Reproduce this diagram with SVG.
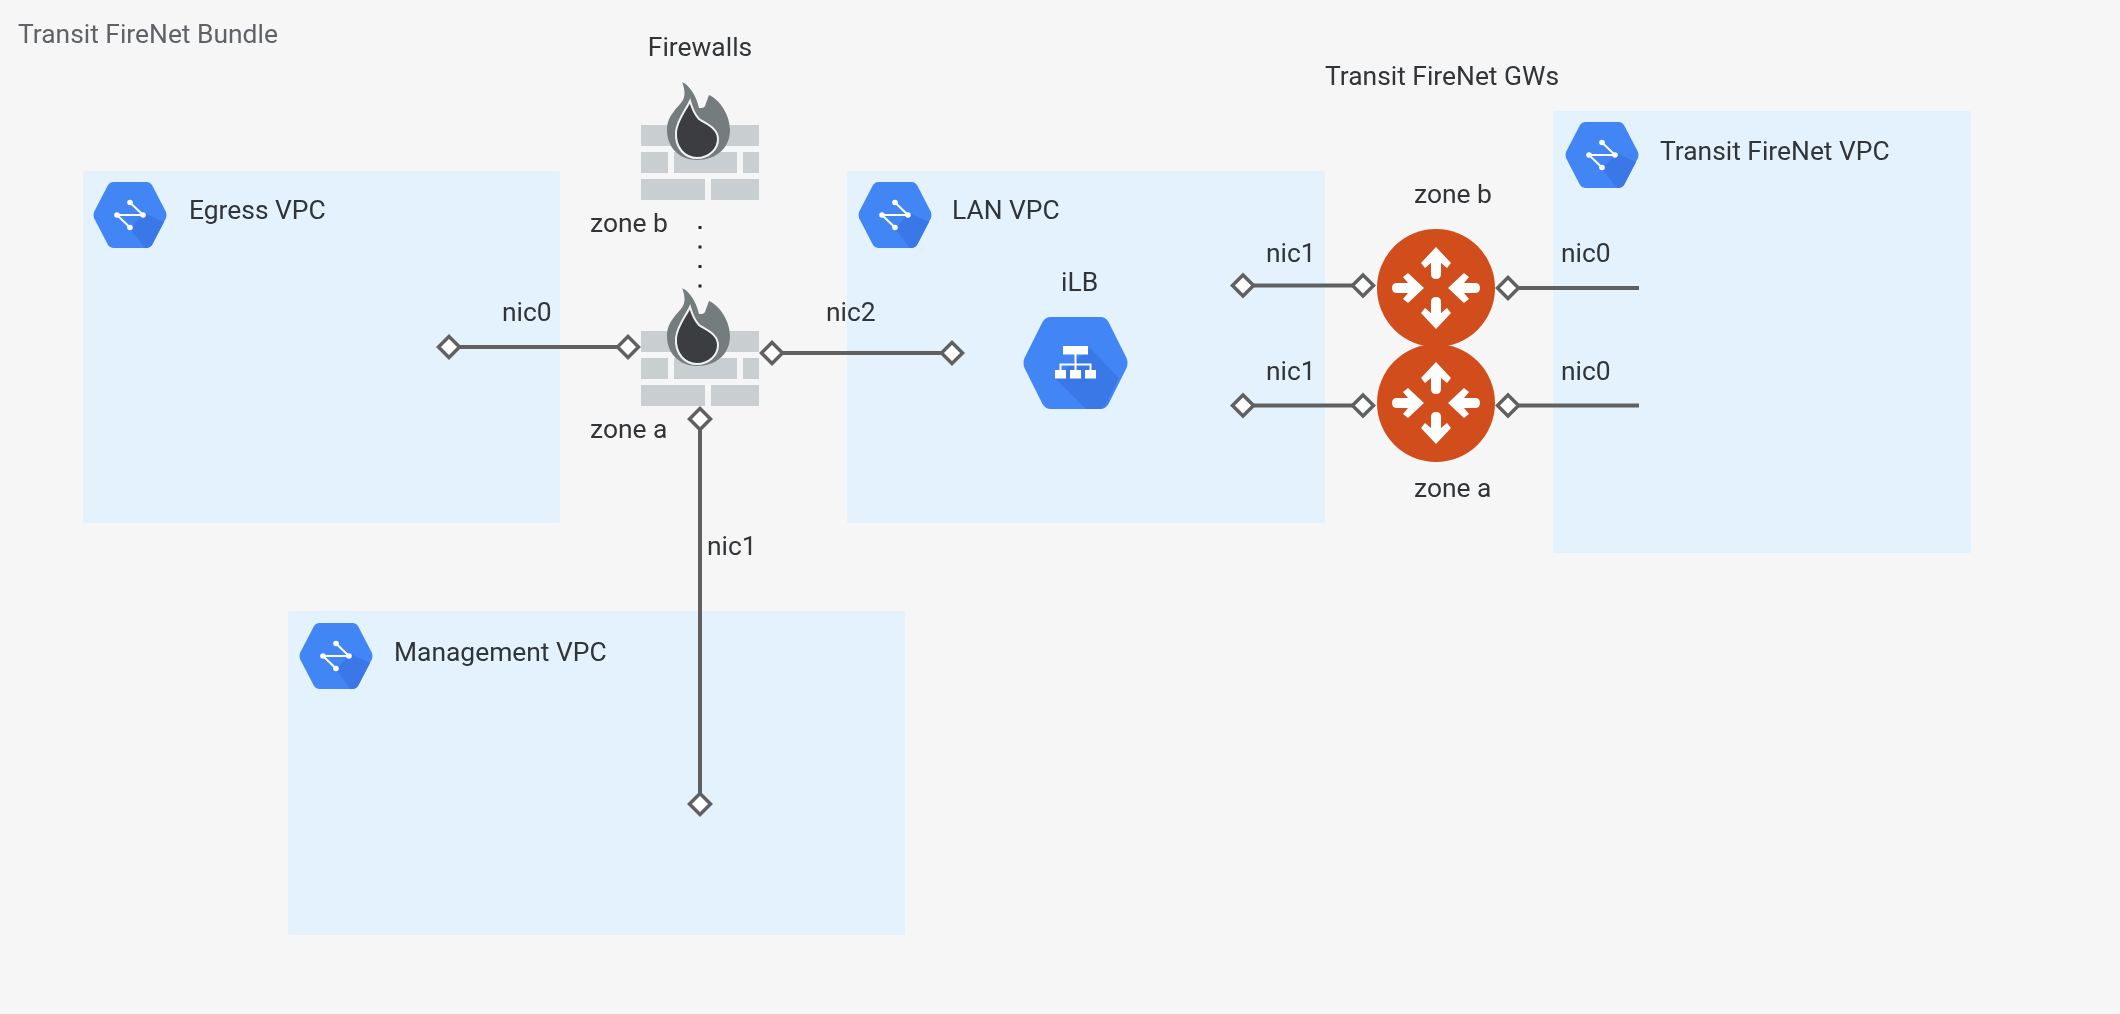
<svg xmlns="http://www.w3.org/2000/svg" width="2120" height="1014" viewBox="0 0 2120 1014">
<style>
text{font-family:Roboto,"Liberation Sans",sans-serif;font-size:26.4px;fill:#303438}
.box{fill:#e3f2fd}
.wire{stroke:#616161;stroke-width:4;fill:none}
.dia{fill:#fff;stroke:#616161;stroke-width:3.500}
.brick{fill:#c9cfd1}
</style>
<defs>
<filter id="soft" x="0" y="0" width="100%" height="100%"><feGaussianBlur stdDeviation="0.7"/></filter>
<path id="d" class="dia" d="M0-10.500L10.500 0 0 10.500-10.500 0Z"/>
<g id="hex">
<path d="M-17-33H17Q20-33 22-30L36-3Q37 0 36 3L22 30Q20 33 17 33H-17Q-20 33-22 30L-36 3Q-37 0-36-3L-22-30Q-20-33-17-33Z" fill="#4285f4"/>
<path d="M14-2L34 7 22 30Q20 33 17 33H15L0 14Z" fill="#3b78e7"/>
<path d="M0-12.500L13 0H-13L0 12.500" fill="none" stroke="#fff" stroke-width="2"/>
<circle cx="0" cy="-12.500" r="2.800" fill="#fff"/><circle cx="-13" cy="0" r="2.800" fill="#fff"/><circle cx="13" cy="0" r="2.800" fill="#fff"/><circle cx="0" cy="12.500" r="2.800" fill="#fff"/>
</g>
<g id="wall">
<rect class="brick" x="641" y="125" width="118" height="21"/>
<rect class="brick" x="641" y="152" width="27" height="21"/>
<rect class="brick" x="674" y="152" width="63" height="21"/>
<rect class="brick" x="743" y="152" width="16" height="21"/>
<rect class="brick" x="641" y="179" width="64" height="21"/>
<rect class="brick" x="711" y="179" width="48" height="21"/>
<path d="M682.300 82.300C689 85 696 95 699 108 702 108 704 108 705 106L709 95C720 100 730 115 730 130 730 148 716 160 697 160 680 160 667 148 667 130 667 115 678 108 683 100 686 94 684 88 682.300 82.300Z" fill="#757b7e"/>
<path d="M690 101C686 110 677 120 676 132 675 148 685 158 697 158 709 158 718 149 718 139 718 128 706 124 699 119 695 115 692 108 690 101Z" fill="#3a3e40" stroke="#f1f3f3" stroke-width="2"/>
</g>
<path id="ar" fill="#fff" d="M0 0L15 16 11 21 5 16V27Q5 32 0 32T-5 27V16L-11 21-15 16Z"/>
<g id="rt">
<circle r="59" fill="#d14d1b"/>
<use href="#ar" transform="translate(0,-41)"/>
<use href="#ar" transform="rotate(180) translate(0,-41)"/>
<use href="#ar" transform="translate(-12,0) rotate(90)"/>
<use href="#ar" transform="translate(12,0) rotate(-90)"/>
</g>
</defs>
<g filter="url(#soft)">
<rect width="2120" height="1014" fill="#f6f6f6"/>
<text x="18" y="43" style="fill:#5f6368">Transit FireNet Bundle</text>

<g id="egress-vpc"><rect class="box" x="83" y="171" width="477" height="352" rx="2"/><use href="#hex" transform="translate(130,215)"/><text x="189" y="219">Egress VPC</text></g>
<g id="lan-vpc"><rect class="box" x="847" y="171" width="478" height="352" rx="2"/><use href="#hex" transform="translate(895,215)"/><text x="952" y="219">LAN VPC</text></g>
<g id="transit-vpc"><rect class="box" x="1553" y="111" width="418" height="442" rx="2"/><use href="#hex" transform="translate(1602,155)"/><text x="1660" y="159.500">Transit FireNet VPC</text></g>
<g id="management-vpc"><rect class="box" x="288" y="611" width="617" height="324" rx="2"/><use href="#hex" transform="translate(336,656)"/><text x="394" y="660.500">Management VPC</text></g>

<g id="connectors">
<path class="wire" d="M449 347H628"/>
<path class="wire" d="M772 353H952"/>
<path class="wire" d="M700 419V804"/>
<path class="wire" d="M1243 285.500H1363"/>
<path class="wire" d="M1243 405.500H1363"/>
<path class="wire" d="M1508 288H1639"/>
<path class="wire" d="M1508 405.500H1639"/>
<path d="M700 226V290" fill="none" stroke="#222" stroke-width="3" stroke-dasharray="3 16.500"/>
<use href="#d" x="449" y="347"/><use href="#d" x="628" y="347"/>
<use href="#d" x="772" y="353"/><use href="#d" x="952" y="353"/>
<use href="#d" x="700" y="419"/><use href="#d" x="700" y="804"/>
<use href="#d" x="1243" y="285.500"/><use href="#d" x="1363" y="285.500"/>
<use href="#d" x="1243" y="405.500"/><use href="#d" x="1363" y="405.500"/>
<use href="#d" x="1508" y="288"/><use href="#d" x="1508" y="405.500"/>
</g>

<g id="firewall-b"><use href="#wall"/><text x="700" y="55.500" text-anchor="middle">Firewalls</text><text x="590" y="232">zone b</text></g>
<g id="firewall-a"><use href="#wall" y="206"/><text x="590" y="438">zone a</text></g>

<g id="ilb">
<path d="M-25-46H25Q30-46 33-41L51-5Q53 0 51 5L33 41Q30 46 25 46H-25Q-30 46-33 41L-51 5Q-53 0-51-5L-33-41Q-30-46-25-46Z" fill="#4285f4" transform="translate(1075.500,363)"/>
<path d="M1090 348L1119 378 1106 404Q1103 409 1098 409H1086L1055 378Z" fill="#3b78e7"/>
<path d="M1075.500 354V372M1060.500 372V364.500H1090.500V372" fill="none" stroke="#fff" stroke-width="2"/>
<rect x="1063" y="346" width="25" height="8.500" fill="#fff"/><rect x="1055" y="370" width="11" height="8.500" fill="#fff"/><rect x="1070" y="370" width="11" height="8.500" fill="#fff"/><rect x="1085" y="370" width="11" height="8.500" fill="#fff"/>
<text x="1061" y="291">iLB</text>
</g>

<g id="gw-b"><use href="#rt" transform="translate(1436,288)"/><text x="1414" y="203">zone b</text></g>
<g id="gw-a"><use href="#rt" transform="translate(1436,403)"/><text x="1414" y="497">zone a</text></g>

<g id="labels">
<text x="502" y="321">nic0</text><text x="826" y="321">nic2</text><text x="707" y="555">nic1</text>
<text x="1266" y="262">nic1</text><text x="1266" y="380">nic1</text>
<text x="1561" y="262">nic0</text><text x="1561" y="380">nic0</text>
<text x="1325" y="85">Transit FireNet GWs</text>
</g>
</g>
</svg>
